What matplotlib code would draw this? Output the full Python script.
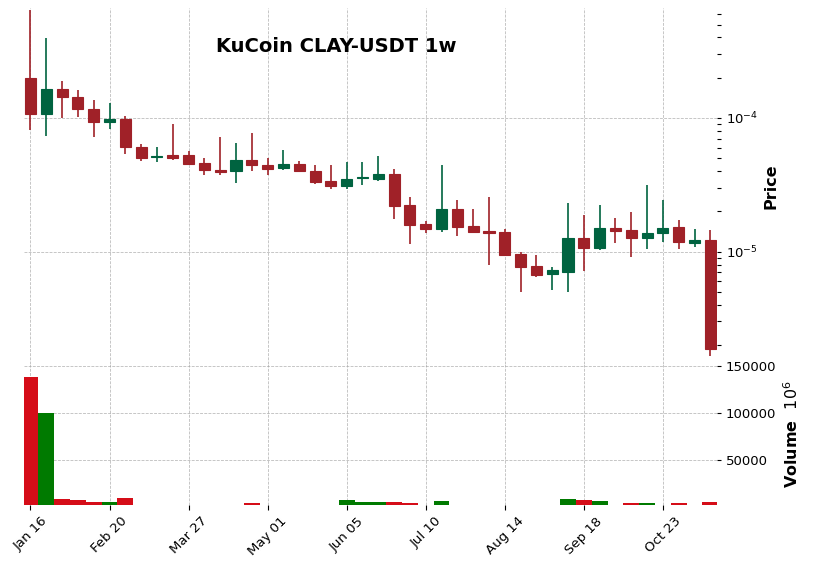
import matplotlib.pyplot as plt
import numpy as np
import pandas as pd
from matplotlib.ticker import LogLocator, NullFormatter

# velas semanales KuCoin CLAY-USDT (precio en USDT)
apertura = [2.00e-4, 1.064e-4, 1.654e-4, 1.43e-4, 1.17e-4, 9.27e-5, 9.88e-5, 6.10e-5, 5.10e-5, 5.26e-5,
            5.26e-5, 4.58e-5, 4.11e-5, 3.995e-5, 4.88e-5, 4.43e-5, 4.21e-5, 4.56e-5, 4.04e-5, 3.35e-5,
            3.09e-5, 3.535e-5, 3.52e-5, 3.775e-5, 2.215e-5, 1.598e-5, 1.475e-5, 2.07e-5, 1.545e-5, 1.417e-5,
            1.393e-5, 9.55e-6, 7.77e-6, 6.77e-6, 7.01e-6, 1.257e-5, 1.064e-5, 1.50e-5, 1.449e-5, 1.263e-5,
            1.376e-5, 1.518e-5, 1.159e-5, 1.221e-5]
maximo = [6.43e-4, 3.995e-4, 1.888e-4, 1.618e-4, 1.362e-4, 1.285e-4, 1.028e-4, 6.40e-5, 6.03e-5, 9.02e-5,
          5.67e-5, 4.99e-5, 7.25e-5, 6.51e-5, 7.73e-5, 4.99e-5, 5.77e-5, 4.78e-5, 4.46e-5, 4.46e-5,
          4.70e-5, 4.70e-5, 5.20e-5, 4.16e-5, 2.57e-5, 1.703e-5, 4.46e-5, 2.44e-5, 2.094e-5, 2.57e-5,
          1.475e-5, 1.0e-5, 9.43e-6, 7.60e-6, 2.29e-5, 1.866e-5, 2.24e-5, 1.794e-5, 1.988e-5, 3.16e-5,
          2.44e-5, 1.733e-5, 1.485e-5, 1.442e-5]
minimo = [8.18e-5, 7.29e-5, 1.0e-4, 1.017e-4, 7.25e-5, 8.32e-5, 5.39e-5, 4.78e-5, 4.70e-5, 4.86e-5,
          4.45e-5, 3.755e-5, 3.71e-5, 3.27e-5, 3.995e-5, 3.71e-5, 4.09e-5, 3.94e-5, 3.22e-5, 2.95e-5,
          2.95e-5, 3.16e-5, 3.40e-5, 1.763e-5, 1.147e-5, 1.386e-5, 1.41e-5, 1.316e-5, 1.386e-5, 8.0e-6,
          9.35e-6, 4.94e-6, 6.46e-6, 5.20e-6, 4.94e-6, 7.16e-6, 1.022e-5, 1.167e-5, 9.18e-6, 1.053e-5,
          1.187e-5, 1.04e-5, 1.09e-5, 1.646e-6]
cierre = [1.064e-4, 1.654e-4, 1.424e-4, 1.159e-4, 9.27e-5, 9.88e-5, 6.03e-5, 4.99e-5, 5.19e-5, 4.99e-5,
          4.50e-5, 4.06e-5, 3.93e-5, 4.88e-5, 4.43e-5, 4.18e-5, 4.56e-5, 3.975e-5, 3.31e-5, 3.09e-5,
          3.52e-5, 3.585e-5, 3.775e-5, 2.19e-5, 1.579e-5, 1.475e-5, 2.07e-5, 1.527e-5, 1.40e-5, 1.381e-5,
          9.39e-6, 7.67e-6, 6.69e-6, 7.29e-6, 1.257e-5, 1.064e-5, 1.493e-5, 1.425e-5, 1.263e-5, 1.376e-5,
          1.493e-5, 1.179e-5, 1.221e-5, 1.866e-6]
# volumen en millones (la etiqueta lleva el 10^6)
volumen = [138600, 100000, 7770, 6700, 4570, 4570, 8830, 900, 700, 1100,
           800, 1000, 600, 900, 3500, 800, 1100, 700, 900, 1000,
           6700, 4570, 4570, 4570, 3500, 1200, 5640, 1000, 800, 1100,
           900, 700, 1000, 1100, 7770, 6700, 5640, 1200, 3500, 3500,
           1200, 3500, 1100, 4570]
vol_min = 1400  # borde inferior del panel de volumen

fecha_inicio = "2023-01-16"
titulo = "KuCoin CLAY-USDT 1w"

# colores estilo "charles"
sube, baja = "#006340", "#a02128"
vol_sube, vol_baja = "#007a00", "#d50d18"
color_grid = "#a0a0a0"

o = np.array(apertura)
h = np.array(maximo)
l = np.array(minimo)
c = np.array(cierre)
v = np.array(volumen)
x = np.arange(len(o))
fechas = pd.date_range(fecha_inicio, periods=len(o), freq="7D")
arriba = c >= o

fig = plt.figure(figsize=(8.15, 5.71), dpi=100)
ax = fig.add_axes([0.0294, 0.3625, 0.8509, 0.6235])
axv = fig.add_axes([0.0294, 0.1156, 0.8509, 0.2469], sharex=ax)

# velas: mecha + cuerpo
col = np.where(arriba, sube, baja)
ax.vlines(x, l, h, colors=col, linewidth=1.2, zorder=2)
ax.bar(x, np.abs(c - o), bottom=np.minimum(o, c), width=0.7, color=col,
       edgecolor=col, linewidth=0.8, zorder=3)
ax.set_yscale("log")
ax.set_ylim(1.44e-6, 6.65e-4)
ax.yaxis.set_major_locator(LogLocator(base=10))
ax.yaxis.set_minor_locator(LogLocator(base=10, subs=np.arange(2, 10)))
ax.yaxis.set_minor_formatter(NullFormatter())

# volumen
vcol = np.where(arriba, vol_sube, vol_baja)
axv.bar(x, v, width=1.0, color=vcol, linewidth=0)
axv.set_ylim(vol_min, 1.1 * v.max())
vticks = [50000, 100000, 150000]
axv.set_yticks(vticks)
axv.set_yticklabels([str(t) for t in vticks])

ticks = x[::5]
axv.set_xticks(ticks)
axv.set_xticklabels(fechas[::5].strftime("%b %d"), rotation=45, ha="center")
axv.set_xlim(-0.41, 43.45)
ax.tick_params(axis="x", which="both", bottom=False, labelbottom=False)

for a in (ax, axv):
    a.set_facecolor("white")
    for s in a.spines.values():
        s.set_visible(False)
    a.yaxis.tick_right()
    a.yaxis.set_label_position("right")
    a.grid(True, which="major", color=color_grid, linestyle=(0, (3, 1.3)),
           linewidth=0.7, alpha=0.6)
    a.set_axisbelow(True)
    a.tick_params(axis="y", which="both", direction="out", length=3, width=0.8,
                  labelsize=9.5, pad=3)
axv.tick_params(axis="x", direction="out", length=3.5, width=0.8, labelsize=9.5)

ax.set_ylabel("Price", fontsize=11.5, fontweight="bold")
axv.set_ylabel("Volume  $10^{6}$", fontsize=11.5, fontweight="bold")

fig.text(0.413, 0.918, titulo, fontsize=14, fontweight="bold", ha="center", va="center")

fig.savefig("out.png", dpi=100)
